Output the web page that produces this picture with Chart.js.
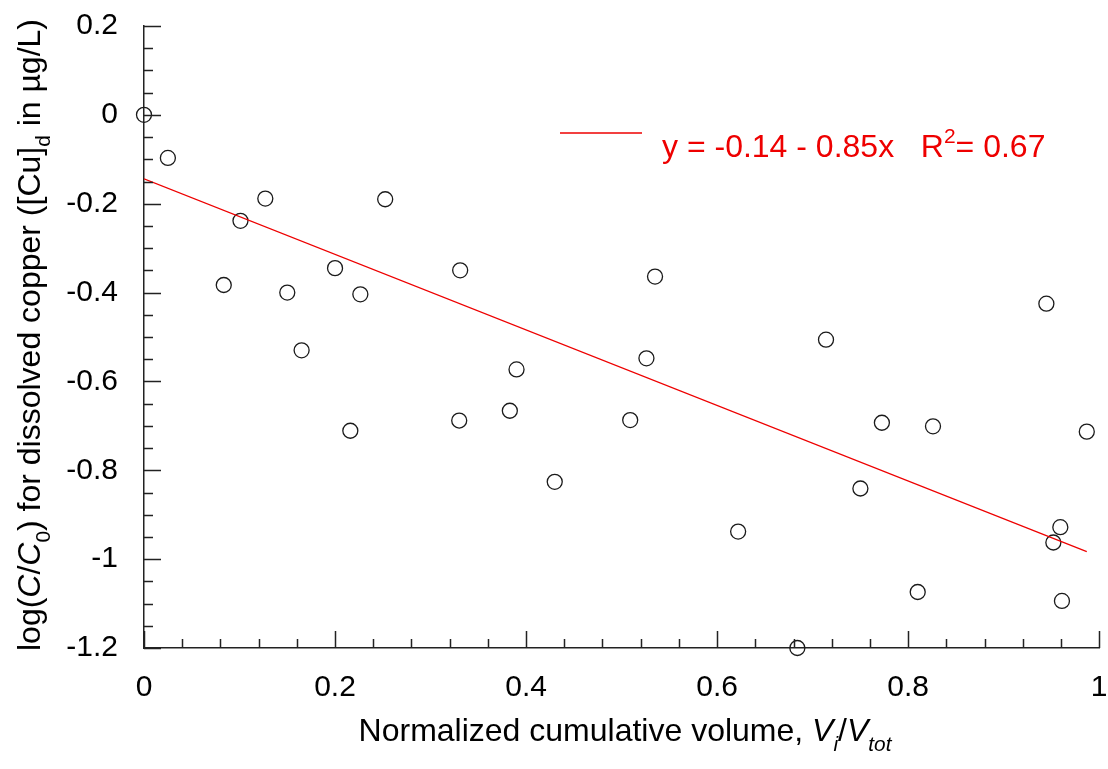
<!DOCTYPE html>
<html>
<head>
<meta charset="utf-8">
<script src="https://cdn.jsdelivr.net/npm/chart.js@4/dist/chart.umd.min.js"></script>
<style>
  body { margin: 0; background: #fff; }
</style>
</head>
<body>
<canvas id="cuChart" width="1108" height="769"></canvas>
<script>
// normalized cumulative volume V_i / V_tot
var volumeFrac = [0, 0.025, 0.0835, 0.101, 0.127, 0.150, 0.165, 0.200, 0.216, 0.2265,
  0.2525, 0.330, 0.331, 0.383, 0.390, 0.430, 0.509, 0.526, 0.535, 0.622,
  0.684, 0.714, 0.750, 0.7725, 0.810, 0.826, 0.9447, 0.952, 0.9593, 0.961, 0.987];
// log(C/C0) for dissolved copper
var logRatio = [0, -0.097, -0.383, -0.2385, -0.1885, -0.400, -0.530, -0.345, -0.711, -0.404,
  -0.190, -0.688, -0.350, -0.666, -0.573, -0.826, -0.687, -0.548, -0.364, -0.938,
  -1.2, -0.506, -0.841, -0.693, -1.074, -0.701, -0.425, -0.9625, -0.928, -1.094, -0.713];

// linear fit
var fitIntercept = -0.144;
var fitSlope = -0.85;
var fitR2 = 0.67;

var xTicks = [0, 0.2, 0.4, 0.6, 0.8, 1];
var yTicks = [0.2, 0, -0.2, -0.4, -0.6, -0.8, -1, -1.2];

var fontFamily = '"Liberation Sans", Arial, Helvetica, sans-serif';
var axisColor = '#222';
var fitColor = '#ee0000';

var points = volumeFrac.map(function (v, i) { return { x: v, y: logRatio[i] }; });
var xMin = Math.min.apply(null, volumeFrac);
var xMax = Math.max.apply(null, volumeFrac);
var fitLine = [xMin, xMax].map(function (v) { return { x: v, y: fitIntercept + fitSlope * v }; });

// draw a row of text pieces (italic / sub / sup) centred on x
function drawRuns(ctx, runs, x, y, size) {
  var total = 0;
  runs.forEach(function (r) {
    var s = (r.sub || r.sup) ? size * 0.65 : size;
    r.font = (r.it ? 'italic ' : '') + s + 'px ' + fontFamily;
    ctx.font = r.font;
    r.w = ctx.measureText(r.t).width;
    total += r.w;
  });
  var cx = x - total / 2;
  runs.forEach(function (r) {
    var dy = r.sub ? size * 0.32 : (r.sup ? -size * 0.42 : 0);
    ctx.font = r.font;
    ctx.fillText(r.t, cx, y + dy);
    cx += r.w;
  });
  return total;
}

// inward tick marks, major + minor
var tickMarks = {
  id: 'tickMarks',
  afterDraw: function (chart) {
    var ctx = chart.ctx;
    var xs = chart.scales.x, ys = chart.scales.y;
    var area = chart.chartArea;
    ctx.save();
    ctx.strokeStyle = axisColor;
    ctx.lineWidth = 1.5;
    ctx.beginPath();
    for (var i = 0; i <= 25; i++) {
      var v = i * 0.04;
      var px = Math.round(xs.getPixelForValue(v)) + 0.5;
      var len = (i % 5 === 0) ? 17 : 9;
      ctx.moveTo(px, area.bottom);
      ctx.lineTo(px, area.bottom - len);
    }
    for (var j = 0; j <= 28; j++) {
      var w = 0.2 - j * 0.05;
      var py = Math.round(ys.getPixelForValue(w)) + 0.5;
      var l2 = (j % 4 === 0) ? 17 : 9;
      ctx.moveTo(area.left, py);
      ctx.lineTo(area.left + l2, py);
    }
    ctx.stroke();
    ctx.restore();
  }
};

// axis titles and the fit legend
var annotations = {
  id: 'annotations',
  afterDraw: function (chart) {
    var ctx = chart.ctx;
    ctx.save();
    ctx.fillStyle = '#000';
    ctx.textBaseline = 'alphabetic';

    drawRuns(ctx, [
      { t: 'Normalized cumulative volume, ' },
      { t: 'V', it: true },
      { t: 'i', it: true, sub: true },
      { t: '/' },
      { t: 'V', it: true },
      { t: 'tot', it: true, sub: true }
    ], 625, 741, 32);

    ctx.save();
    ctx.translate(40, 335);
    ctx.rotate(-Math.PI / 2);
    drawRuns(ctx, [
      { t: 'log(' },
      { t: 'C', it: true },
      { t: '/' },
      { t: 'C', it: true },
      { t: '0', sub: true },
      { t: ') for dissolved copper ([Cu]' },
      { t: 'd', sub: true },
      { t: ' in \u00b5g/L)' }
    ], 0, 0, 32);
    ctx.restore();

    // legend
    ctx.strokeStyle = fitColor;
    ctx.lineWidth = 1.5;
    ctx.beginPath();
    ctx.moveTo(560, 133);
    ctx.lineTo(642, 133);
    ctx.stroke();
    ctx.fillStyle = fitColor;
    var label = 'y = ' + fitIntercept.toFixed(2) + ' - ' + Math.abs(fitSlope).toFixed(2) + 'x   R';
    ctx.textAlign = 'left';
    ctx.font = '32px ' + fontFamily;
    ctx.fillText(label, 662, 157);
    var w1 = ctx.measureText(label).width;
    ctx.font = '21px ' + fontFamily;
    ctx.fillText('2', 662 + w1, 143);
    var w2 = ctx.measureText('2').width;
    ctx.font = '32px ' + fontFamily;
    ctx.fillText('= ' + fitR2.toFixed(2), 662 + w1 + w2, 157);
    ctx.restore();
  }
};

new Chart(document.getElementById('cuChart'), {
  type: 'scatter',
  data: {
    datasets: [
      {
        type: 'line',
        data: fitLine,
        borderColor: fitColor,
        borderWidth: 1.2,
        pointRadius: 0,
        fill: false
      },
      {
        data: points,
        pointStyle: 'circle',
        pointRadius: 7.5,
        pointHoverRadius: 7.5,
        borderColor: '#1a1a1a',
        borderWidth: 1.3,
        backgroundColor: 'rgba(0,0,0,0)',
        clip: false
      }
    ]
  },
  options: {
    responsive: false,
    animation: false,
    events: [],
    layout: { padding: { left: 0, top: 26, right: 6, bottom: 0 } },
    plugins: { legend: { display: false }, tooltip: { enabled: false } },
    scales: {
      x: {
        type: 'linear',
        min: 0,
        max: 1,
        afterBuildTicks: function (scale) {
          scale.ticks = xTicks.map(function (v) { return { value: v }; });
        },
        afterFit: function (scale) {
          scale.height = 121;
          scale.paddingLeft = 0;
          scale.paddingRight = 0;
        },
        grid: { display: false, drawTicks: false },
        border: { display: true, color: axisColor, width: 1.5 },
        ticks: {
          padding: 22,
          color: '#000',
          font: { family: fontFamily, size: 30 },
          maxRotation: 0,
          callback: function (v) { return String(Math.round(v * 10) / 10); }
        }
      },
      y: {
        type: 'linear',
        min: -1.2,
        max: 0.2,
        afterBuildTicks: function (scale) {
          scale.ticks = yTicks.map(function (v) { return { value: v }; });
        },
        afterFit: function (scale) {
          scale.width = 144;
          scale.paddingTop = 0;
          scale.paddingBottom = 0;
        },
        grid: { display: false, drawTicks: false },
        border: { display: true, color: axisColor, width: 1.5 },
        ticks: {
          padding: 26,
          color: '#000',
          font: { family: fontFamily, size: 30 },
          callback: function (v) { return String(Math.round(v * 10) / 10); }
        }
      }
    }
  },
  plugins: [tickMarks, annotations]
});
</script>
</body>
</html>
